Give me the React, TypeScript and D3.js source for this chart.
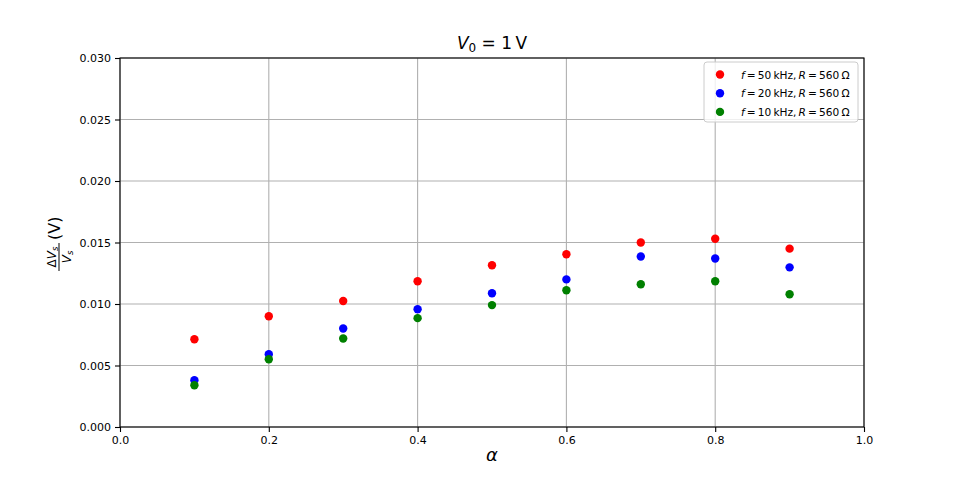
import React, { useEffect, useRef } from "react";
import * as d3 from "d3";

// duty cycle values on x
const alpha = [0.1, 0.2, 0.3, 0.4, 0.5, 0.6, 0.7, 0.8, 0.9];
// ripple ratio for each frequency
const ripple50k = [0.00713, 0.00901, 0.01025, 0.01185, 0.01315, 0.01405, 0.0150, 0.0153, 0.0145];
const ripple20k = [0.00381, 0.00592, 0.00801, 0.00958, 0.01088, 0.012, 0.01386, 0.0137, 0.01298];
const ripple10k = [0.00339, 0.00551, 0.0072, 0.00885, 0.00991, 0.01112, 0.0116, 0.01185, 0.01079];
const freqs = ["50", "20", "10"];
const colors = ["#ff0000", "#0000ff", "#008000"];
const xTicks = [0, 0.2, 0.4, 0.6, 0.8, 1.0];
const yTicks = [0, 0.005, 0.01, 0.015, 0.02, 0.025, 0.03];

const FONT = "DejaVu Sans, sans-serif";

export default function App() {
  const ref = useRef<SVGSVGElement>(null);

  useEffect(() => {
    const svg = d3.select(ref.current);
    svg.selectAll("*").remove();

    const width = 960;
    const height = 480;
    const margin = { top: 58, right: 96, bottom: 53, left: 120 };
    const innerWidth = width - margin.left - margin.right;
    const innerHeight = height - margin.top - margin.bottom;

    svg.append("rect").attr("width", width).attr("height", height).attr("fill", "white");

    const chart = svg.append("g").attr("transform", `translate(${margin.left},${margin.top})`);

    const xScale = d3.scaleLinear().domain([0, 1]).range([0, innerWidth]);
    const yScale = d3.scaleLinear().domain([0, 0.03]).range([innerHeight, 0]);

    // grid
    chart.selectAll(".vgrid").data(xTicks).join("line")
      .attr("x1", d => xScale(d)).attr("x2", d => xScale(d))
      .attr("y1", 0).attr("y2", innerHeight)
      .attr("stroke", "#b0b0b0").attr("stroke-width", 1.1);
    chart.selectAll(".hgrid").data(yTicks).join("line")
      .attr("y1", d => yScale(d)).attr("y2", d => yScale(d))
      .attr("x1", 0).attr("x2", innerWidth)
      .attr("stroke", "#b0b0b0").attr("stroke-width", 1.1);

    const xAxis = d3.axisBottom(xScale).tickValues(xTicks).tickFormat(d3.format(".1f")).tickSize(5).tickPadding(4);
    const yAxis = d3.axisLeft(yScale).tickValues(yTicks).tickFormat(d3.format(".3f")).tickSize(5).tickPadding(4);

    const gx = chart.append("g").attr("transform", `translate(0,${innerHeight})`).call(xAxis);
    const gy = chart.append("g").call(yAxis);
    [gx, gy].forEach(g => {
      g.select(".domain").remove();
      g.selectAll("line").attr("stroke", "black").attr("stroke-width", 1.1);
      g.selectAll("text").attr("font-family", FONT).attr("font-size", 11).attr("fill", "black");
    });

    // spines
    chart.append("rect").attr("width", innerWidth).attr("height", innerHeight)
      .attr("fill", "none").attr("stroke", "black").attr("stroke-width", 1.1);

    const series = [ripple50k, ripple20k, ripple10k];
    series.forEach((vals, i) => {
      chart.append("g").selectAll("circle").data(vals).join("circle")
        .attr("cx", (_, j) => xScale(alpha[j]))
        .attr("cy", d => yScale(d))
        .attr("r", 4.2)
        .attr("fill", colors[i]);
    });

    // title
    const title = svg.append("text").attr("x", margin.left + innerWidth / 2).attr("y", 49)
      .attr("text-anchor", "middle").attr("font-family", FONT).attr("font-size", 17);
    title.append("tspan").attr("font-style", "italic").text("V");
    title.append("tspan").attr("font-size", 12).attr("dy", 3).text("0");
    title.append("tspan").attr("dy", -3).text(" = 1\u2009V");

    // x label
    svg.append("text").attr("x", margin.left + innerWidth / 2).attr("y", 461)
      .attr("text-anchor", "middle").attr("font-family", FONT).attr("font-size", 18)
      .attr("font-style", "italic").text("α");

    // y label: fraction then (V), rotated
    const yl = svg.append("g").attr("transform", `translate(59,242) rotate(-90)`)
      .attr("font-family", FONT);
    const num = yl.append("text").attr("x", -15).attr("y", -3.5).attr("text-anchor", "middle").attr("font-size", 12);
    num.append("tspan").text("Δ");
    num.append("tspan").attr("font-style", "italic").text("V");
    num.append("tspan").attr("font-size", 8.5).attr("font-style", "italic").attr("dy", 2).text("s");
    yl.append("line").attr("x1", -29).attr("x2", -1).attr("y1", 0).attr("y2", 0)
      .attr("stroke", "black").attr("stroke-width", 1);
    const den = yl.append("text").attr("x", -15).attr("y", 11.5).attr("text-anchor", "middle").attr("font-size", 12);
    den.append("tspan").attr("font-style", "italic").text("V");
    den.append("tspan").attr("font-size", 8.5).attr("font-style", "italic").attr("dy", 2).text("s");
    yl.append("text").attr("x", 2).attr("y", 1).attr("font-size", 16).text("(V)");

    // legend
    const lg = svg.append("g").attr("transform", "translate(704,62)");
    lg.append("rect").attr("width", 154).attr("height", 60).attr("rx", 3)
      .attr("fill", "white").attr("fill-opacity", 0.8).attr("stroke", "#cccccc").attr("stroke-width", 1);
    freqs.forEach((f, i) => {
      const row = lg.append("g").attr("transform", `translate(0,${12.5 + i * 18.7})`);
      row.append("circle").attr("cx", 16).attr("cy", 0).attr("r", 4.2).attr("fill", colors[i]);
      const t = row.append("text").attr("x", 37).attr("y", 4).attr("font-family", FONT).attr("font-size", 10.6);
      t.append("tspan").attr("font-style", "italic").text("f");
      t.append("tspan").text(`\u2009=\u2009${f}\u2009kHz,`);
      t.append("tspan").attr("font-style", "italic").text("\u2009R");
      t.append("tspan").text("\u2009=\u2009560\u2009Ω");
    });
  }, []);

  return (
    <div style={{ position: "absolute", left: 0, top: 0 }}>
      <svg ref={ref} width={960} height={480} style={{ display: "block" }} />
    </div>
  );
}
